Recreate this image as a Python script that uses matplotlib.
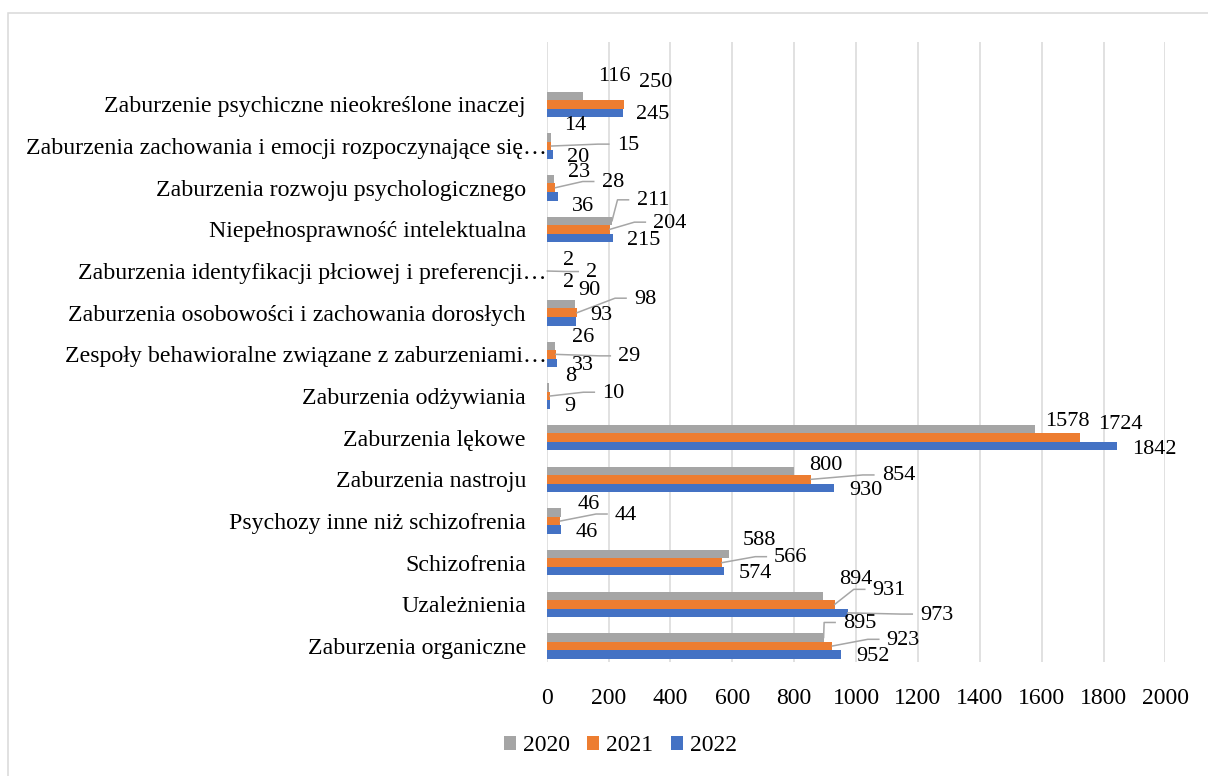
import matplotlib
matplotlib.use("Agg")
import matplotlib.pyplot as plt
from matplotlib.patches import Rectangle
import numpy as np

plt.rcParams['font.family'] = ['Liberation Serif', 'DejaVu Serif']

# categories listed bottom -> top
categories = [
    'Zaburzenia organiczne',
    'Uzależnienia',
    'Schizofrenia',
    'Psychozy inne niż schizofrenia',
    'Zaburzenia nastroju',
    'Zaburzenia lękowe',
    'Zaburzenia odżywiania',
    'Zespoły behawioralne związane z zaburzeniami…',
    'Zaburzenia osobowości i zachowania dorosłych',
    'Zaburzenia identyfikacji płciowej i preferencji…',
    'Niepełnosprawność intelektualna',
    'Zaburzenia rozwoju psychologicznego',
    'Zaburzenia zachowania i emocji rozpoczynające się…',
    'Zaburzenie psychiczne nieokreślone inaczej',
]
v2020 = [895, 894, 588, 46, 800, 1578, 8, 26, 90, 2, 211, 23, 14, 116]
v2021 = [923, 931, 566, 44, 854, 1724, 10, 29, 98, 2, 204, 28, 15, 250]
v2022 = [952, 973, 574, 46, 930, 1842, 9, 33, 93, 2, 215, 36, 20, 245]
years = ['2020', '2021', '2022']
x_ticks = list(range(0, 2001, 200))

# label placement (pixels from bar end, y downward) - mimics excel's layout
off2020 = [(36, -15), (32, -17.5), (31, -15), (28, -8.5), (31.5, -6.6), (32, -9), (21, -11.6),
           (28.6, -9.3), (15, -15), (21, -2.7), (41, -21), (25, -7.7), (24, -12.7), (31.4, -20.4)]
off2021 = [(71, -6.7), (54.5, -15), (69, -6), (65.7, -7), (87.4, -4.4), (40, -14.5), (63.5, -3.8),
           (73.6, 1.5), (68, -14.5), (44.4, 0.5), (60, -7.2), (57.3, -6.2), (76.4, -1.9), (31.8, -22.9)]
off2022 = [(31.5, 0.5), (89, 1.2), (30.7, 1.5), (25.8, 2.2), (31.6, 1.4), (37.4, 2), (20.5, 1.1),
           (25.8, 1.4), (25.5, -7), (21, 2), (30.8, 1.3), (25.2, 9.4), (25.1, 2), (30.5, 0.3)]
lead2020 = [0, 10]
lead2021 = [0, 1, 2, 3, 4, 6, 7, 8, 9, 10, 11, 12]
lead2022 = [1]

colors = ['#A5A5A5', '#ED7D31', '#4472C4']
h = 0.205

fig = plt.figure(figsize=(12.08, 7.76), dpi=100)
ax = fig.add_axes([0.4526, 0.1469, 0.5122, 0.7986])

y = np.arange(len(categories))
series = [v2020, v2021, v2022]
shifts = [h, 0, -h]
for vals, s, c, yr in zip(series, shifts, colors, years):
    ax.barh(y + s, vals, height=h, color=c, label=yr, zorder=2)

ax.set_xlim(0, 2000)
ax.set_ylim(-0.384, 14.49)
ax.set_xticks(x_ticks)
ax.set_yticks(y)
ax.set_yticklabels(categories, fontsize=17.2)
ax.tick_params(axis='y', length=0, pad=15)
ax.tick_params(axis='x', length=0, pad=18.5, labelsize=17)
# truncated labels run up to the axis in the original
for tick, name in zip(ax.yaxis.get_major_ticks(), categories):
    if name.endswith('…'):
        tick.set_pad(0)
for sp in ax.spines.values():
    sp.set_visible(False)
ax.set_axisbelow(True)
ax.xaxis.grid(True, color='#D9D9D9', lw=1.1)

# data labels + leader lines
inv = ax.transData.inverted()
for vals, s, offs, leads in zip(series, shifts, [off2020, off2021, off2022],
                                [lead2020, lead2021, lead2022]):
    for i, v in enumerate(vals):
        dx, dy = offs[i]
        yy = y[i] + s
        ax.annotate(str(v), xy=(v, yy), xytext=(dx, -dy - 1), textcoords='offset pixels',
                    ha='center', va='center', fontsize=16, annotation_clip=False)
        if i in leads:
            base = ax.transData.transform((v, yy))
            half = len(str(v)) * 5.5
            end_x = dx - half - 8
            elb_x = end_x - 11
            pts = np.array([[0, 0], [elb_x, -dy], [end_x, -dy]]) + base
            d = inv.transform(pts)
            ax.plot(d[:, 0], d[:, 1], color='#A6A6A6', lw=1.1, clip_on=False, zorder=3)

ax.legend(loc='center', bbox_to_anchor=(0.5135, 0.039), bbox_transform=fig.transFigure,
          ncol=3, frameon=False, fontsize=17, handlelength=0.5, handleheight=0.5,
          handletextpad=0.3, columnspacing=0.75)

fig.patches.append(Rectangle((8 / 1208, -0.05), 1.1, 0.9836 + 0.05, transform=fig.transFigure,
                             fill=False, edgecolor='#D9D9D9', lw=1.1))

fig.savefig('out.png', dpi=100)
